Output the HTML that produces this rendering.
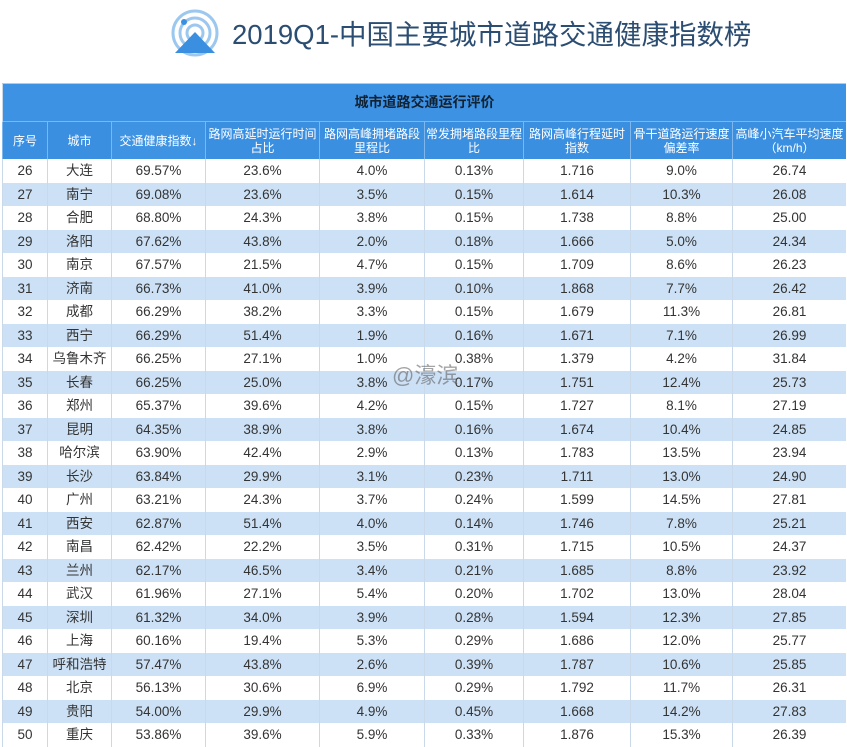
<!DOCTYPE html><html><head><meta charset="utf-8"><style>
body{margin:0;width:847px;height:746px;background:#fff;overflow:hidden;font-family:"Liberation Sans","Noto Sans CJK SC",sans-serif;position:relative}
.t{position:absolute;left:232px;top:12px;font-size:27.5px;color:#2b4d72;white-space:nowrap;font-family:"Liberation Sans","Noto Sans CJK SC",sans-serif}
table{position:absolute;left:2px;top:83px;width:844px;border-collapse:collapse;table-layout:fixed}
td{text-align:center;padding:0;font-size:13.5px;color:#333;border-left:1px solid #c9d9ea;height:23.5px;line-height:23.5px}
tr.h td{background:#3b8fe0;color:#fff;border-left:1px solid #7fb6ec;border-top:1px solid #7fb6ec;height:37px;line-height:14px;font-size:12px}
tr.c td{background:#3d92e3;color:#123;font-size:14px;font-weight:bold;height:37px;border-top:1px solid #a8cdf2}
tr:nth-child(2n+4) td{background:#cde1f6}
td.k{color:#1a3f9a;background:#3f93e3 !important}
</style></head><body>
<svg style="position:absolute;left:170px;top:8px" width="50" height="50" viewBox="0 0 50 50"><circle cx="25" cy="25" r="22" fill="none" stroke="#9cc8ef" stroke-width="3"/><circle cx="25" cy="25" r="15" fill="none" stroke="#9cc8ef" stroke-width="3"/><circle cx="25" cy="25" r="8" fill="none" stroke="#9cc8ef" stroke-width="3"/><path d="M5 45 L25 24 L45 45 Z" fill="#3b8fe0"/><circle cx="14" cy="14" r="3" fill="#3b8fe0"/></svg>
<div class="t">2019Q1-中国主要城市道路交通健康指数榜</div>
<table>
<colgroup><col style="width:45px"><col style="width:64px"><col style="width:94px"><col style="width:114px"><col style="width:105px"><col style="width:99px"><col style="width:107px"><col style="width:102px"><col></colgroup>
<tr class="c"><td colspan="9">城市道路交通运行评价</td></tr>
<tr class="h"><td>序号</td><td>城市</td><td class="k">交通健康指数↓</td><td>路网高延时运行时间占比</td><td>路网高峰拥堵路段里程比</td><td>常发拥堵路段里程比</td><td>路网高峰行程延时指数</td><td>骨干道路运行速度偏差率</td><td>高峰小汽车平均速度（km/h）</td></tr>
<tr><td>26</td><td>大连</td><td>69.57%</td><td>23.6%</td><td>4.0%</td><td>0.13%</td><td>1.716</td><td>9.0%</td><td>26.74</td></tr>
<tr><td>27</td><td>南宁</td><td>69.08%</td><td>23.6%</td><td>3.5%</td><td>0.15%</td><td>1.614</td><td>10.3%</td><td>26.08</td></tr>
<tr><td>28</td><td>合肥</td><td>68.80%</td><td>24.3%</td><td>3.8%</td><td>0.15%</td><td>1.738</td><td>8.8%</td><td>25.00</td></tr>
<tr><td>29</td><td>洛阳</td><td>67.62%</td><td>43.8%</td><td>2.0%</td><td>0.18%</td><td>1.666</td><td>5.0%</td><td>24.34</td></tr>
<tr><td>30</td><td>南京</td><td>67.57%</td><td>21.5%</td><td>4.7%</td><td>0.15%</td><td>1.709</td><td>8.6%</td><td>26.23</td></tr>
<tr><td>31</td><td>济南</td><td>66.73%</td><td>41.0%</td><td>3.9%</td><td>0.10%</td><td>1.868</td><td>7.7%</td><td>26.42</td></tr>
<tr><td>32</td><td>成都</td><td>66.29%</td><td>38.2%</td><td>3.3%</td><td>0.15%</td><td>1.679</td><td>11.3%</td><td>26.81</td></tr>
<tr><td>33</td><td>西宁</td><td>66.29%</td><td>51.4%</td><td>1.9%</td><td>0.16%</td><td>1.671</td><td>7.1%</td><td>26.99</td></tr>
<tr><td>34</td><td>乌鲁木齐</td><td>66.25%</td><td>27.1%</td><td>1.0%</td><td>0.38%</td><td>1.379</td><td>4.2%</td><td>31.84</td></tr>
<tr><td>35</td><td>长春</td><td>66.25%</td><td>25.0%</td><td>3.8%</td><td>0.17%</td><td>1.751</td><td>12.4%</td><td>25.73</td></tr>
<tr><td>36</td><td>郑州</td><td>65.37%</td><td>39.6%</td><td>4.2%</td><td>0.15%</td><td>1.727</td><td>8.1%</td><td>27.19</td></tr>
<tr><td>37</td><td>昆明</td><td>64.35%</td><td>38.9%</td><td>3.8%</td><td>0.16%</td><td>1.674</td><td>10.4%</td><td>24.85</td></tr>
<tr><td>38</td><td>哈尔滨</td><td>63.90%</td><td>42.4%</td><td>2.9%</td><td>0.13%</td><td>1.783</td><td>13.5%</td><td>23.94</td></tr>
<tr><td>39</td><td>长沙</td><td>63.84%</td><td>29.9%</td><td>3.1%</td><td>0.23%</td><td>1.711</td><td>13.0%</td><td>24.90</td></tr>
<tr><td>40</td><td>广州</td><td>63.21%</td><td>24.3%</td><td>3.7%</td><td>0.24%</td><td>1.599</td><td>14.5%</td><td>27.81</td></tr>
<tr><td>41</td><td>西安</td><td>62.87%</td><td>51.4%</td><td>4.0%</td><td>0.14%</td><td>1.746</td><td>7.8%</td><td>25.21</td></tr>
<tr><td>42</td><td>南昌</td><td>62.42%</td><td>22.2%</td><td>3.5%</td><td>0.31%</td><td>1.715</td><td>10.5%</td><td>24.37</td></tr>
<tr><td>43</td><td>兰州</td><td>62.17%</td><td>46.5%</td><td>3.4%</td><td>0.21%</td><td>1.685</td><td>8.8%</td><td>23.92</td></tr>
<tr><td>44</td><td>武汉</td><td>61.96%</td><td>27.1%</td><td>5.4%</td><td>0.20%</td><td>1.702</td><td>13.0%</td><td>28.04</td></tr>
<tr><td>45</td><td>深圳</td><td>61.32%</td><td>34.0%</td><td>3.9%</td><td>0.28%</td><td>1.594</td><td>12.3%</td><td>27.85</td></tr>
<tr><td>46</td><td>上海</td><td>60.16%</td><td>19.4%</td><td>5.3%</td><td>0.29%</td><td>1.686</td><td>12.0%</td><td>25.77</td></tr>
<tr><td>47</td><td>呼和浩特</td><td>57.47%</td><td>43.8%</td><td>2.6%</td><td>0.39%</td><td>1.787</td><td>10.6%</td><td>25.85</td></tr>
<tr><td>48</td><td>北京</td><td>56.13%</td><td>30.6%</td><td>6.9%</td><td>0.29%</td><td>1.792</td><td>11.7%</td><td>26.31</td></tr>
<tr><td>49</td><td>贵阳</td><td>54.00%</td><td>29.9%</td><td>4.9%</td><td>0.45%</td><td>1.668</td><td>14.2%</td><td>27.83</td></tr>
<tr><td>50</td><td>重庆</td><td>53.86%</td><td>39.6%</td><td>5.9%</td><td>0.33%</td><td>1.876</td><td>15.3%</td><td>26.39</td></tr>
</table>
<div style="position:absolute;left:392px;top:358px;font-size:22px;color:rgba(90,90,90,0.55)">@濠滨</div>
</body></html>
